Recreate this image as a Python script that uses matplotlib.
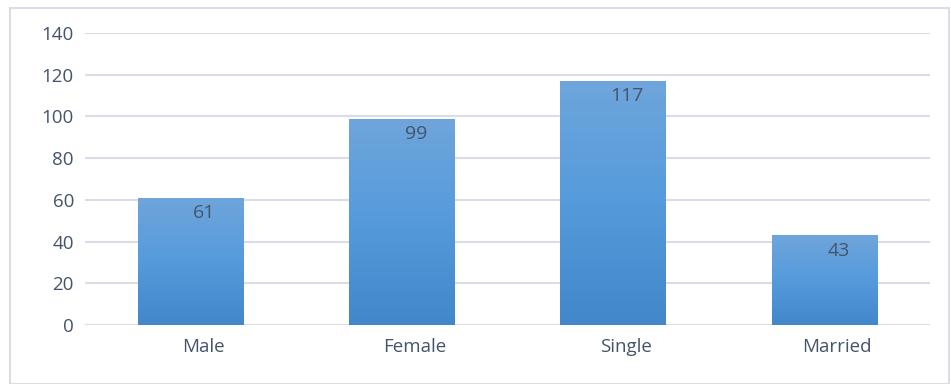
import matplotlib
matplotlib.use("Agg")
import matplotlib.pyplot as plt
import numpy as np
from matplotlib.patches import Rectangle
from matplotlib.colors import LinearSegmentedColormap
from matplotlib.transforms import ScaledTranslation

categories = ["Male", "Female", "Single", "Married"]
values = [61, 99, 117, 43]
yticks = [0, 20, 40, 60, 80, 100, 120, 140]

plt.rcParams['font.family'] = ['Open Sans', 'DejaVu Sans']

W, H = 951, 384
fig = plt.figure(figsize=(W / 100, H / 100), dpi=100)
fig.patch.set_facecolor("white")

# outer frame
fig.add_artist(Rectangle((10 / W, 0), (W - 12) / W, (H - 8) / H, transform=fig.transFigure,
                         fill=False, edgecolor="#D9DDE8", linewidth=1.5))

ax = fig.add_axes([85 / W, (H - 325) / H, (930 - 85) / W, (325 - 33) / H])
ax.set_xlim(-0.5, len(categories) - 0.5)
ax.set_ylim(0, 140)

for s in ax.spines.values():
    s.set_visible(False)
ax.set_yticks(yticks)
ax.yaxis.grid(True, color="#DADDE7", linewidth=1.5)
ax.set_axisbelow(True)
ax.tick_params(axis="both", length=0, labelsize=13.5, colors="#44546A")
ax.tick_params(axis="y", pad=8)
ax.tick_params(axis="x", pad=9)
ax.set_xticks(range(len(categories)))
ax.set_xticklabels(categories)

shift = ScaledTranslation(0.13, 0, fig.dpi_scale_trans)
for lbl in ax.get_xticklabels():
    lbl.set_transform(lbl.get_transform() + shift)

grad = np.linspace(0, 1, 256).reshape(-1, 1)
cmap = LinearSegmentedColormap.from_list("g", ["#4287C9", "#559BDC", "#6FA5DB"])

bw = 0.5
bars = ax.bar(range(len(categories)), values, width=bw, color="none", zorder=2)
for i, (b, v) in enumerate(zip(bars, values)):
    x0 = b.get_x()
    im = ax.imshow(grad, extent=[x0, x0 + bw, 0, v], origin="lower", cmap=cmap,
                   aspect="auto", zorder=2)
    im.set_clip_path(b)
    ax.annotate(str(v), xy=(i, v), xytext=(10, -11), textcoords="offset points",
                ha="center", va="center", fontsize=14, color="#44546A", zorder=3)

ax.set_xlim(-0.5, len(categories) - 0.5)
ax.set_ylim(0, 140)

fig.savefig("out.png", dpi=100)
